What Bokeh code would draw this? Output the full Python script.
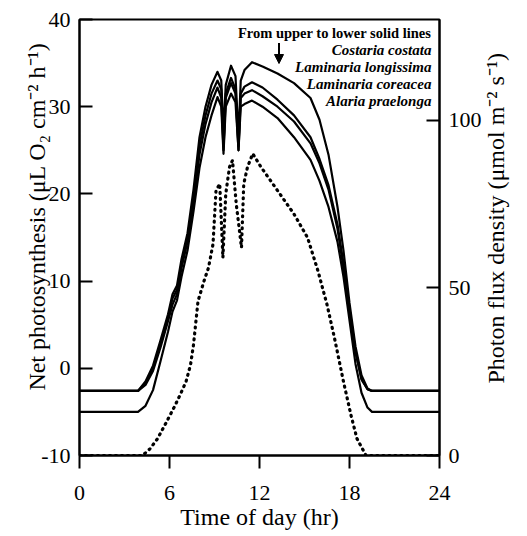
import math
from bokeh.plotting import figure
from bokeh.models import Range1d, LinearAxis, FixedTicker, Label, Arrow, NormalHead
from bokeh.embed import file_html
from bokeh.resources import INLINE

# ---------------- data ----------------
hours = [0, 3.9, 4.4, 4.9, 5.4, 5.9, 6.2, 6.5, 6.8, 7.2, 7.6, 8.0, 8.4, 8.8, 9.2, 9.45, 9.6, 9.75,
         10.1, 10.4, 10.6, 10.75, 11.0, 11.5, 12.2, 13.2, 14.3, 15.4, 16.0, 16.6, 17.2, 17.6, 18.0,
         18.4, 18.8, 19.2, 19.5, 24]

costaria_costata = [-2.6, -2.6, -1.5, 0.3, 3.2, 6.2, 8.5, 9.5, 12.5, 15.5, 20.5, 26.5, 30.0, 32.5,
                    34.0, 33.0, 27.0, 32.5, 34.7, 33.5, 26.5, 33.0, 34.2, 35.1, 34.6, 33.8, 32.7,
                    31.0, 28.5, 24.5, 18.5, 13.5, 7.5, 2.5, -0.8, -2.3, -2.6, -2.6]

laminaria_longissima = [-2.6, -2.6, -1.7, 0.0, 2.8, 5.8, 8.0, 9.0, 12.0, 15.0, 19.5, 25.5, 29.0,
                        31.5, 33.0, 32.0, 25.5, 31.5, 33.3, 32.0, 25.5, 31.5, 32.3, 32.8, 32.2,
                        30.8, 29.0, 26.5, 24.0, 21.0, 16.5, 12.0, 6.8, 2.0, -1.2, -2.4, -2.6, -2.6]

laminaria_coreacea = [-2.6, -2.6, -1.9, -0.3, 2.4, 5.4, 7.3, 8.5, 11.5, 14.5, 19.0, 24.5, 28.0,
                      30.5, 32.2, 31.0, 25.0, 31.0, 32.7, 31.5, 25.0, 31.0, 31.5, 31.9, 31.2,
                      30.0, 28.3, 25.8, 23.5, 20.5, 16.0, 11.5, 6.5, 1.8, -1.3, -2.4, -2.6, -2.6]

alaria_praelonga = [-5.0, -5.0, -4.3, -2.5, 0.8, 4.2, 6.5, 7.8, 10.5, 13.5, 18.0, 23.0, 26.5,
                    29.0, 31.1, 30.0, 24.6, 30.0, 31.5, 30.5, 25.0, 30.0, 30.3, 30.7, 30.0,
                    28.7, 26.5, 23.9, 21.5, 18.5, 14.5, 10.5, 5.5, 0.5, -2.8, -4.5, -5.0, -5.0]

pfd_hours = [0, 4.2, 4.7, 5.2, 5.8, 6.3, 6.7, 7.1, 7.4, 7.6, 7.9, 8.3, 8.6, 8.9, 9.1, 9.35, 9.56,
             9.75, 10.0, 10.2, 10.45, 10.8, 10.95, 11.2, 11.55, 12.1, 13.2, 14.3, 15.2, 15.9,
             16.5, 17.0, 17.6, 18.1, 18.5, 19.1, 24]
pfd_values = [0, 0, 2, 5, 10, 14.3, 18, 22, 27, 33, 46, 52, 56, 63, 79, 81, 59, 78, 86, 88, 75,
              62, 81, 86, 90, 86, 79, 72, 65, 55, 45, 35, 22, 12, 5, 0, 0]

x_ticks = [0, 6, 12, 18, 24]
left_ticks = [-10, 0, 10, 20, 30, 40]
right_ticks = [0, 50, 100]

legend_header = "From upper to lower solid lines"
legend_species = ["Costaria costata", "Laminaria longissima", "Laminaria coreacea", "Alaria praelonga"]

FONT = "Liberation Serif"
NB = "\u00a0" * 7
NB_R = "\u00a0" * 12

# ---------------- figure ----------------
p = figure(width=519, height=528, frame_width=360, frame_height=436,
           x_range=Range1d(0, 24), y_range=Range1d(-10, 40),
           output_backend="svg", toolbar_location=None,
           min_border_left=79, min_border_right=80, min_border_top=19, min_border_bottom=73)
p.extra_y_ranges = {"pfd": Range1d(0, 130)}
p.xgrid.visible = False
p.ygrid.visible = False
p.outline_line_color = "black"
p.outline_line_width = 2
p.background_fill_color = "white"
p.border_fill_color = "white"


def style_axis(ax, tin, tout, standoff, label_size):
    ax.major_tick_in = tin
    ax.major_tick_out = tout
    ax.minor_tick_line_color = None
    ax.axis_line_width = 2
    ax.axis_line_color = "black"
    ax.major_tick_line_color = "black"
    ax.major_tick_line_width = 2
    ax.major_label_text_font = FONT
    ax.major_label_text_font_size = "22px"
    ax.major_label_text_color = "black"
    ax.major_label_standoff = standoff
    ax.axis_label_text_font = FONT
    ax.axis_label_text_font_size = label_size
    ax.axis_label_text_font_style = "normal"
    ax.axis_label_text_color = "black"


# x axis
xa = p.xaxis[0]
xa.ticker = FixedTicker(ticks=x_ticks)
style_axis(xa, 0, 13, 17, "24px")
xa.axis_label = "Time of day (hr)"
xa.axis_label_standoff = 1

# left axis
ya = p.yaxis[0]
ya.ticker = FixedTicker(ticks=left_ticks)
ya.major_label_overrides = {-10: "-10"}
style_axis(ya, 13, 0, 9, "24px")
ya.axis_label = NB + "Net photosynthesis (\u03bcL O\u2082 cm\u207b\u00b2 h\u207b\u00b9)"
ya.axis_label_standoff = -12

# right axis
ra = LinearAxis(y_range_name="pfd", ticker=FixedTicker(ticks=right_ticks))
style_axis(ra, 13, 0, 9, "24px")
ra.axis_label = NB_R + "Photon flux density (\u03bcmol m\u207b\u00b2 s\u207b\u00b9)"
ra.axis_label_orientation = math.pi / 2
ra.axis_label_align = "start"
ra.axis_label_standoff = 11
p.add_layout(ra, "right")

# ---------------- lines ----------------
for series in [costaria_costata, laminaria_longissima, laminaria_coreacea, alaria_praelonga]:
    p.line(hours, series, line_color="black", line_width=2.2, line_join="round")

p.line(pfd_hours, pfd_values, y_range_name="pfd", line_color="black", line_width=3.2,
       line_dash="1 5", line_cap="round")

# ---------------- legend text ----------------
p.add_layout(Label(x=23.46, y=38.5, text=legend_header, text_align="right", text_baseline="middle",
                   text_font=FONT, text_font_size="14.5px", text_font_style="bold",
                   text_color="black"))
for i, name in enumerate(legend_species):
    p.add_layout(Label(x=23.46, y=36.45 - i * 1.93, text=name, text_align="right",
                       text_baseline="middle", text_font=FONT, text_font_size="15px",
                       text_font_style="bold italic", text_color="black"))

p.add_layout(Arrow(end=NormalHead(size=9, fill_color="black", line_color="black"),
                   x_start=13.3, y_start=37.3, x_end=13.3, y_end=34.95,
                   line_width=2, line_color="black"))

open("out.html", "w").write(file_html(p, INLINE))
